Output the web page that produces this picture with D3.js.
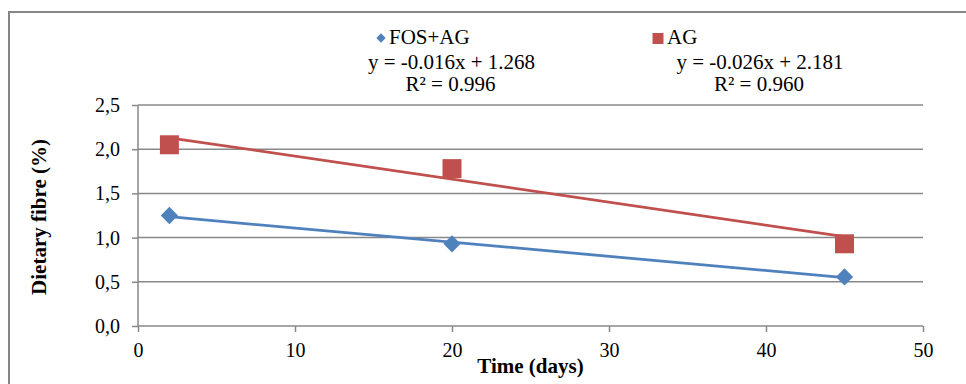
<!DOCTYPE html>
<html><head><meta charset="utf-8">
<script src="https://cdn.jsdelivr.net/npm/d3@7"></script>
<style>
html,body{margin:0;padding:0;background:#fff;}
svg{display:block;font-family:"Liberation Serif","Times New Roman",serif;}
</style></head>
<body>
<svg id="chart" width="966" height="384"></svg>
<script>
// ---- data ----
const seriesNames = ["FOS+AG", "AG"];
const seriesColors = ["#4F81BD", "#C0504D"];
const days = [2, 20, 45];
const fosAgValues = [1.25, 0.93, 0.555];
const agValues = [2.05, 1.78, 0.93];
const trendSlopes = [-0.016, -0.026];
const trendIntercepts = [1.268, 2.181];
const trendLabels = ["y = -0.016x + 1.268", "y = -0.026x + 2.181"];
const r2Labels = ["R² = 0.996", "R² = 0.960"];
const xTicks = [0, 10, 20, 30, 40, 50];
const yTicks = [0, 0.5, 1.0, 1.5, 2.0, 2.5];
const xTitle = "Time (days)";
const yTitle = "Dietary fibre (%)";

(function () {
const svg = d3.select("#chart");
const pLeft = 138, pRight = 923, pTop = 105, pBottom = 326;
const FONT = '"Liberation Serif","Times New Roman",serif';

// outer chart border
svg.append("rect").attr("x", 9).attr("y", 12).attr("width", 980).attr("height", 400)
  .attr("fill", "none").attr("stroke", "#868686").attr("stroke-width", 2);

const x = d3.scaleLinear().domain([0, 50]).range([pLeft, pRight]);
const y = d3.scaleLinear().domain([0, 2.5]).range([pBottom, pTop]);

// gridlines
svg.append("g").selectAll("line").data(yTicks.filter(d => d > 0)).join("line")
  .attr("x1", pLeft).attr("x2", pRight)
  .attr("y1", d => y(d)).attr("y2", d => y(d))
  .attr("stroke", "#888").attr("stroke-width", 1.5);

// y axis
const yAxis = svg.append("g").attr("transform", `translate(${pLeft},0)`)
  .call(d3.axisLeft(y).tickValues(yTicks).tickSize(6).tickPadding(12)
    .tickFormat(d => d3.format(".1f")(d).replace(".", ",")));
yAxis.select(".domain").attr("stroke", "#888").attr("stroke-width", 1.5).attr("d", `M0,${pTop}V${pBottom}`);
yAxis.selectAll(".tick line").attr("stroke", "#888").attr("stroke-width", 1.5);
yAxis.selectAll("text").attr("font-size", 20).attr("fill", "#000").attr("font-family", FONT);

// x axis
const xAxis = svg.append("g").attr("transform", `translate(0,${pBottom})`)
  .call(d3.axisBottom(x).tickValues(xTicks).tickSize(6).tickPadding(11).tickFormat(d3.format("d")));
xAxis.select(".domain").attr("stroke", "#888").attr("stroke-width", 1.5).attr("d", `M${pLeft},0H${pRight}`);
xAxis.selectAll(".tick line").attr("stroke", "#888").attr("stroke-width", 1.5);
xAxis.selectAll("text").attr("font-size", 20).attr("fill", "#000").attr("font-family", FONT);

// trend lines
[0, 1].forEach(i => {
  const x0 = days[0], x1 = days[days.length - 1];
  svg.append("line")
    .attr("x1", x(x0)).attr("y1", y(trendSlopes[i] * x0 + trendIntercepts[i]))
    .attr("x2", x(x1)).attr("y2", y(trendSlopes[i] * x1 + trendIntercepts[i]))
    .attr("stroke", seriesColors[i]).attr("stroke-width", 2.75);
});

// markers
const diamond = d3.symbol().type(d3.symbolDiamond2).size(190);
svg.append("g").selectAll("path").data(days.map((d, i) => [d, fosAgValues[i]])).join("path")
  .attr("d", diamond)
  .attr("transform", d => `translate(${x(d[0])},${y(d[1])})`)
  .attr("fill", seriesColors[0]);
const sq = 19;
svg.append("g").selectAll("rect").data(days.map((d, i) => [d, agValues[i]])).join("rect")
  .attr("x", d => x(d[0]) - sq / 2).attr("y", d => y(d[1]) - sq / 2)
  .attr("width", sq).attr("height", sq)
  .attr("fill", seriesColors[1]);

// legend
svg.append("path").attr("d", d3.symbol().type(d3.symbolDiamond2).size(55))
  .attr("transform", "translate(381,38)").attr("fill", seriesColors[0]);
svg.append("text").attr("x", 389).attr("y", 44).attr("font-size", 21).text(seriesNames[0]);
svg.append("rect").attr("x", 652.5).attr("y", 33).attr("width", 11).attr("height", 11).attr("fill", seriesColors[1]);
svg.append("text").attr("x", 667).attr("y", 44).attr("font-size", 21).text(seriesNames[1]);

// trend labels
const eqX = [451.5, 760];
[0, 1].forEach(i => {
  svg.append("text").attr("x", eqX[i]).attr("y", 69).attr("text-anchor", "middle")
    .attr("font-size", 21).text(trendLabels[i]);
  svg.append("text").attr("x", eqX[i] - 1).attr("y", 91).attr("text-anchor", "middle")
    .attr("font-size", 21).text(r2Labels[i]);
});

// axis titles
svg.append("text").attr("x", (pLeft + pRight) / 2).attr("y", 373).attr("text-anchor", "middle")
  .attr("font-size", 21).attr("font-weight", "bold").text(xTitle);
svg.append("text").attr("transform", `translate(46,217) rotate(-90)`).attr("text-anchor", "middle")
  .attr("font-size", 21).attr("font-weight", "bold").text(yTitle);
})();
</script>
</body></html>
